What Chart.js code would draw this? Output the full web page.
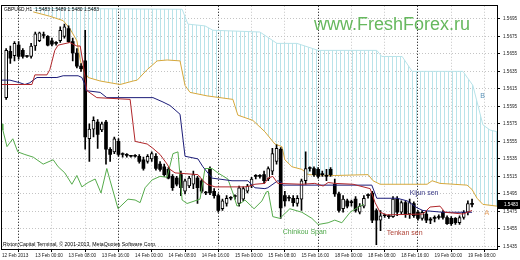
<!DOCTYPE html>
<html>
<head>
<meta charset="utf-8">
<script src="https://cdn.jsdelivr.net/npm/chart.js@4.4.1/dist/chart.umd.min.js"></script>
<style>
  html, body { margin: 0; padding: 0; background: #fff; }
</style>
</head>
<body>
<canvas id="myChart" width="520" height="260"></canvas>
<script>
const symbol = 'GBPUSD,H1';
const timeLabels = ['12 Feb 2013', '13 Feb 00:00', '13 Feb 08:00', '13 Feb 16:00', '14 Feb 00:00', '14 Feb 08:00', '14 Feb 16:00',
  '15 Feb 00:00', '15 Feb 08:00', '15 Feb 16:00', '18 Feb 00:00', '18 Feb 08:00', '18 Feb 16:00', '19 Feb 00:00', '19 Feb 08:00'];
const labelStep = 8; // H1 bars between time labels
const priceLabels = ['1.5435', '1.5455', '1.5475', '1.5495', '1.5515', '1.5535', '1.5555', '1.5575', '1.5595', '1.5615', '1.5635', '1.5655', '1.5675', '1.5695'];
const priceTicks = priceLabels.map(Number);

// candles, first one is bar 1
const firstBar = 1;
const opens = [1.5605, 1.5658, 1.5653, 1.5665, 1.5659, 1.5652, 1.5652, 1.5664, 1.5670, 1.5676, 1.5675, 1.5670, 1.5667, 1.5670, 1.5675, 1.5684, 1.5669, 1.5656, 1.5641, 1.5647,
  1.5558, 1.5569, 1.5577, 1.5568, 1.5577, 1.5546, 1.5543, 1.5555, 1.5540, 1.5539, 1.5538, 1.5538, 1.5538, 1.5534, 1.5532, 1.5535, 1.5538, 1.5529, 1.5526, 1.5523,
  1.5515, 1.5513, 1.5517, 1.5498, 1.5504, 1.5506, 1.5513, 1.5510, 1.5496, 1.5524, 1.5498, 1.5493, 1.5478, 1.5484, 1.5490, 1.5492, 1.5484, 1.5489, 1.5498, 1.5504,
  1.5515, 1.5515, 1.5517, 1.5512, 1.5521, 1.5532, 1.5546, 1.5493, 1.5490, 1.5490, 1.5484, 1.5489, 1.5510, 1.5524, 1.5524, 1.5523, 1.5517, 1.5515, 1.5523, 1.5506,
  1.5495, 1.5478, 1.5487, 1.5485, 1.5489, 1.5474, 1.5481, 1.5493, 1.5496, 1.5476, 1.5465, 1.5470, 1.5469, 1.5469, 1.5489, 1.5474, 1.5485, 1.5472, 1.5484, 1.5474,
  1.5467, 1.5472, 1.5465, 1.5467, 1.5468, 1.5474, 1.5468, 1.5467, 1.5467, 1.5462, 1.5468, 1.5474, 1.5483];
const highs = [1.5661, 1.5664, 1.5669, 1.5669, 1.5661, 1.5653, 1.5667, 1.5680, 1.5680, 1.5680, 1.5676, 1.5673, 1.5669, 1.5686, 1.5689, 1.5687, 1.5673, 1.5661, 1.5644, 1.5682,
  1.5575, 1.5583, 1.5580, 1.5577, 1.5579, 1.5548, 1.5560, 1.5558, 1.5542, 1.5541, 1.5539, 1.5540, 1.5540, 1.5537, 1.5540, 1.5543, 1.5541, 1.5532, 1.5529, 1.5525,
  1.5517, 1.5515, 1.5521, 1.5512, 1.5515, 1.5521, 1.5515, 1.5512, 1.5498, 1.5526, 1.5501, 1.5495, 1.5489, 1.5493, 1.5492, 1.5494, 1.5504, 1.5503, 1.5506, 1.5514,
  1.5517, 1.5517, 1.5521, 1.5526, 1.5547, 1.5551, 1.5548, 1.5498, 1.5493, 1.5493, 1.5493, 1.5512, 1.5543, 1.5526, 1.5526, 1.5525, 1.5521, 1.5523, 1.5525, 1.5512,
  1.5497, 1.5493, 1.5489, 1.5488, 1.5492, 1.5484, 1.5493, 1.5495, 1.5498, 1.5478, 1.5476, 1.5472, 1.5471, 1.5492, 1.5492, 1.5487, 1.5487, 1.5489, 1.5486, 1.5476,
  1.5476, 1.5475, 1.5468, 1.5470, 1.5471, 1.5476, 1.5470, 1.5469, 1.5468, 1.5470, 1.5476, 1.5487, 1.5489];
const lows = [1.5603, 1.5644, 1.5647, 1.5649, 1.5650, 1.5651, 1.5650, 1.5659, 1.5669, 1.5673, 1.5664, 1.5664, 1.5665, 1.5668, 1.5673, 1.5668, 1.5647, 1.5639, 1.5635, 1.5546,
  1.5532, 1.5560, 1.5547, 1.5566, 1.5529, 1.5532, 1.5541, 1.5538, 1.5537, 1.5537, 1.5537, 1.5537, 1.5530, 1.5522, 1.5530, 1.5532, 1.5522, 1.5521, 1.5515, 1.5512,
  1.5499, 1.5504, 1.5493, 1.5495, 1.5502, 1.5501, 1.5484, 1.5496, 1.5494, 1.5494, 1.5490, 1.5474, 1.5476, 1.5481, 1.5488, 1.5489, 1.5481, 1.5487, 1.5496, 1.5502,
  1.5512, 1.5513, 1.5507, 1.5510, 1.5517, 1.5529, 1.5467, 1.5481, 1.5487, 1.5481, 1.5481, 1.5476, 1.5506, 1.5521, 1.5515, 1.5513, 1.5515, 1.5510, 1.5515, 1.5492,
  1.5474, 1.5474, 1.5479, 1.5481, 1.5474, 1.5472, 1.5479, 1.5490, 1.5462, 1.5437, 1.5453, 1.5468, 1.5467, 1.5468, 1.5470, 1.5472, 1.5468, 1.5467, 1.5468, 1.5465,
  1.5465, 1.5462, 1.5461, 1.5463, 1.5466, 1.5466, 1.5460, 1.5459, 1.5460, 1.5460, 1.5466, 1.5471, 1.5480];
const closes = [1.5659, 1.5650, 1.5667, 1.5652, 1.5652, 1.5652, 1.5664, 1.5678, 1.5679, 1.5676, 1.5665, 1.5666, 1.5667, 1.5682, 1.5686, 1.5669, 1.5656, 1.5641, 1.5638, 1.5560,
  1.5569, 1.5579, 1.5563, 1.5575, 1.5546, 1.5540, 1.5558, 1.5540, 1.5540, 1.5539, 1.5538, 1.5538, 1.5532, 1.5524, 1.5538, 1.5541, 1.5524, 1.5523, 1.5517, 1.5513,
  1.5502, 1.5506, 1.5502, 1.5510, 1.5513, 1.5517, 1.5502, 1.5498, 1.5496, 1.5496, 1.5493, 1.5476, 1.5487, 1.5490, 1.5490, 1.5492, 1.5502, 1.5501, 1.5504, 1.5512,
  1.5515, 1.5515, 1.5510, 1.5524, 1.5541, 1.5547, 1.5479, 1.5487, 1.5490, 1.5485, 1.5490, 1.5510, 1.5524, 1.5524, 1.5517, 1.5515, 1.5517, 1.5515, 1.5517, 1.5495,
  1.5476, 1.5489, 1.5481, 1.5485, 1.5476, 1.5481, 1.5490, 1.5493, 1.5465, 1.5465, 1.5470, 1.5470, 1.5469, 1.5489, 1.5474, 1.5485, 1.5472, 1.5485, 1.5470, 1.5467,
  1.5474, 1.5465, 1.5465, 1.5467, 1.5468, 1.5468, 1.5461, 1.5461, 1.5462, 1.5468, 1.5474, 1.5484, 1.5483];

// ichimoku lines, read at their corners (bar, price)
const tenkanX = [0, 7.2, 7.9, 10.8, 11.5, 12.7, 13.5, 16.3, 18, 18.8, 19.5, 20.4, 22.8, 30.8, 32, 34.9, 36.3, 38, 39.7, 40.4, 41.6, 47.1, 48.3, 49.3, 51.2, 58.4, 59.6, 60.8, 63.2, 63.9,
  65.1, 66.3, 72.1, 75.2, 77.2, 78.4, 80, 84.4, 88.5, 89.7, 90.9, 92.5, 101.2, 102.9, 105.3, 106.5, 110.8, 113];
const tenkanY = [1.5620, 1.5620, 1.5631, 1.5631, 1.5637, 1.5659, 1.5665, 1.5668, 1.5664, 1.5664, 1.5644, 1.5613, 1.5605, 1.5603, 1.5555, 1.5552, 1.5547, 1.5540, 1.5529, 1.5523,
  1.5519, 1.5517, 1.5510, 1.5506, 1.5503, 1.5503, 1.5504, 1.5506, 1.5507, 1.5513, 1.5515, 1.5507, 1.5506, 1.5507, 1.5504, 1.5508, 1.5507, 1.5506, 1.5501, 1.5485,
  1.5474, 1.5471, 1.5472, 1.5480, 1.5481, 1.5474, 1.5472, 1.5476];
const kijunX = [0, 1.9, 4.3, 5.5, 6.7, 7.5, 8.4, 13.2, 14.7, 18.3, 19.2, 20, 20.2, 23.6, 25.2, 36.3, 38.7, 40.4, 41.6, 42.8, 44, 47.1, 48.3, 50.5, 55.3, 59.1, 60.8, 63.2, 63.9, 66.3,
  67, 67.5, 88.9, 90.1, 95, 97.4, 99.8, 101.2, 106, 113];
const kijunY = [1.5625, 1.5625, 1.5622, 1.5620, 1.5622, 1.5625, 1.5628, 1.5628, 1.5630, 1.5630, 1.5628, 1.5619, 1.5613, 1.5611, 1.5605, 1.5605, 1.5600, 1.5596, 1.5591, 1.5586,
  1.5538, 1.5535, 1.5526, 1.5513, 1.5510, 1.5510, 1.5502, 1.5501, 1.5502, 1.5510, 1.5509, 1.5505, 1.5505, 1.5490, 1.5490, 1.5487, 1.5479, 1.5476, 1.5474, 1.5474];
const chikouX = [0, 0.2, 1.2, 2.6, 3.8, 5.5, 7.5, 9.9, 12.3, 13.5, 15.1, 16.8, 18, 19.2, 20.7, 22.4, 23.8, 25.2, 26, 27.9, 30.3, 32, 33.2, 34.4, 36.1, 38, 39.7, 41.1, 42.3, 43.3,
  44.5, 47.6, 48.8, 50.5, 51.9, 54.3, 55.5, 56.5, 58.4, 60.6, 62.5, 63.5, 64, 65.1, 66.8, 69.2, 72.1, 74.5, 76, 78.4, 80, 81.7, 83.7, 86, 87];
const chikouY = [1.5575, 1.5568, 1.5549, 1.5558, 1.5543, 1.5540, 1.5537, 1.5529, 1.5534, 1.5526, 1.5519, 1.5506, 1.5516, 1.5503, 1.5508, 1.5512, 1.5496, 1.5524, 1.5510, 1.5478,
  1.5489, 1.5488, 1.5485, 1.5502, 1.5511, 1.5515, 1.5514, 1.5541, 1.5543, 1.5488, 1.5484, 1.5489, 1.5524, 1.5524, 1.5519, 1.5512, 1.5496, 1.5481, 1.5488, 1.5478,
  1.5487, 1.5497, 1.5498, 1.5469, 1.5467, 1.5478, 1.5474, 1.5467, 1.5460, 1.5462, 1.5465, 1.5462, 1.5474, 1.5481, 1.5483];
const spanAX = [7.5, 11.5, 14.7, 16.3, 18, 18.8, 19.5, 20.7, 23.6, 28.4, 31.5, 32.5, 34.9, 37.3, 39.7, 42.8, 44, 45.2, 49.3, 55.5, 56.7, 60.3, 63.2, 65.6, 67.3, 68, 69.7, 72.1, 73.6, 80,
  88, 89.2, 90.9, 102.2, 103.4, 105.3, 111.8, 113, 114.2, 115.6, 119];
const spanAY = [1.5703, 1.5698, 1.5693, 1.5684, 1.5670, 1.5648, 1.5637, 1.5628, 1.5624, 1.5620, 1.5624, 1.5625, 1.5637, 1.5647, 1.5648, 1.5647, 1.5619, 1.5611, 1.5607, 1.5603,
  1.5585, 1.5579, 1.5566, 1.5552, 1.5549, 1.5534, 1.5526, 1.5523, 1.5517, 1.5516, 1.5517, 1.5510, 1.5506, 1.5506, 1.5510, 1.5507, 1.5505, 1.5500, 1.5490, 1.5483, 1.5481];
const spanBX = [7.5, 43.3, 44.7, 48.8, 50.7, 62, 66.1, 70.9, 76, 90.1, 91.3, 96.2, 98.6, 110.8, 113.2, 115.6, 117.3, 119];
const spanBY = [1.5707, 1.5706, 1.5689, 1.5687, 1.5682, 1.5680, 1.5667, 1.5667, 1.5659, 1.5659, 1.5652, 1.5652, 1.5635, 1.5635, 1.5619, 1.5574, 1.5568, 1.5566];

const notes = [
  { text: 'Kijun sen', bar: 98, price: 1.5496, color: '#3c3c88' },
  { text: 'Tenkan sen', bar: 92.5, price: 1.5450, color: '#b04438' },
  { text: 'Chinkou Span', bar: 67.5, price: 1.5451, color: '#4fa84a' },
  { text: 'A', bar: 116, price: 1.5473, color: '#e5a060' },
  { text: 'B', bar: 115, price: 1.5607, color: '#5b93b8' }
];

const FONT = '"Liberation Sans", Arial, sans-serif';
const pts = (xs, ys) => xs.map((x, k) => ({ x: x, y: ys[k] }));
const bars = opens.map((o, k) => firstBar + k);
const bull = k => closes[k] > opens[k];

// vertical hatch for the cloud
const pc = document.createElement('canvas');
pc.width = 4; pc.height = 4;
const pctx = pc.getContext('2d');
pctx.fillStyle = '#b9e3e9';
pctx.fillRect(0, 0, 1, 4);
const hatch = pctx.createPattern(pc, 'repeat');

const overlay = {
  id: 'overlay',
  afterDatasetsDraw(chart) {
    const { ctx, chartArea: a, scales: { x, y } } = chart;
    ctx.save();
    ctx.strokeStyle = '#000';
    ctx.lineWidth = 1;
    ctx.strokeRect(Math.round(a.left) - 0.5, Math.round(a.top) - 0.5, Math.round(a.right - a.left) + 1, Math.round(a.bottom - a.top) + 1);

    ctx.textBaseline = 'middle';
    ctx.textAlign = 'left';
    const last = opens.length - 1;
    ctx.fillStyle = '#000';
    ctx.font = '4.9px ' + FONT;
    ctx.fillText(symbol + '  ' + [opens[last], highs[last], lows[last], closes[last]].map(v => v.toFixed(4)).join(' '), a.left + 2, a.top + 4);
    ctx.font = '5.2px ' + FONT;
    ctx.fillText('Rixton Capital Terminal, \u00a9 2001-2013, MetaQuotes Software Corp.', a.left + 1, a.bottom - 4);

    ctx.fillStyle = '#66b85e';
    ctx.font = '18px ' + FONT;
    ctx.fillText('www.FreshForex.ru', a.left + 312, a.top + 19);

    ctx.font = '7px ' + FONT;
    notes.forEach(n => {
      ctx.fillStyle = n.color;
      ctx.fillText(n.text, x.getPixelForValue(n.bar), y.getPixelForValue(n.price));
    });

    // last price box
    const py = Math.round(y.getPixelForValue(closes[last]));
    ctx.fillStyle = '#000';
    ctx.fillRect(a.right, py - 4, chart.width - a.right, 9);
    ctx.fillStyle = '#fff';
    ctx.font = '4.6px ' + FONT;
    ctx.fillText(closes[last].toFixed(4), a.right + 7, py + 0.5);
    ctx.restore();
  }
};

new Chart(document.getElementById('myChart'), {
  type: 'bar',
  data: {
    datasets: [
      { type: 'line', label: 'Senkou Span A', data: pts(spanAX, spanAY), borderColor: '#d6a83c', borderWidth: 1, pointRadius: 0, fill: false, order: 8 },
      { type: 'line', label: 'Senkou Span B', data: pts(spanBX, spanBY), borderColor: '#b9e3e9', borderWidth: 1, pointRadius: 0, fill: '-1', backgroundColor: hatch, order: 9 },
      { type: 'bar', label: 'wick', data: bars.map((b, k) => ({ x: b, y: [lows[k], highs[k]] })), backgroundColor: '#000', barThickness: 1, grouped: false, order: 7 },
      { type: 'bar', label: 'body', data: bars.map((b, k) => ({ x: b, y: [opens[k], closes[k]] })),
        backgroundColor: c => bull(c.dataIndex) ? '#fff' : '#000', borderColor: '#000',
        borderWidth: c => bull(c.dataIndex) ? 1 : 0, borderSkipped: false, barThickness: 3, minBarLength: 1, grouped: false, order: 6 },
      { type: 'line', label: 'Chinkou Span', data: pts(chikouX, chikouY), borderColor: '#56ab4c', borderWidth: 1, pointRadius: 0, fill: false, order: 5 },
      { type: 'line', label: 'Kijun sen', data: pts(kijunX, kijunY), borderColor: '#1c1c78', borderWidth: 1, pointRadius: 0, fill: false, order: 4 },
      { type: 'line', label: 'Tenkan sen', data: pts(tenkanX, tenkanY), borderColor: '#b0262a', borderWidth: 1, pointRadius: 0, fill: false, order: 3 }
    ]
  },
  options: {
    responsive: false,
    animation: false,
    layout: { padding: { left: 2, top: 2, right: 0, bottom: 0 } },
    plugins: { legend: { display: false }, tooltip: { enabled: false } },
    scales: {
      x: {
        type: 'linear', min: 0, max: 119, offset: false,
        afterBuildTicks: s => { s.ticks = timeLabels.map((t, k) => ({ value: k * labelStep })); },
        afterFit: s => { s.height = 11; },
        ticks: { autoSkip: false, maxRotation: 0, align: 'start', padding: 1, color: '#222', font: { family: FONT, size: 4.7 },
          callback: (v, k) => timeLabels[k] },
        grid: { color: c => (timeLabels[c.index] || '').endsWith('00:00') ? '#000' : '#c4c4c4', tickLength: 3, tickColor: '#000' },
        border: { display: false, dash: [1, 2] }
      },
      y: {
        type: 'linear', position: 'right', min: 1.5432, max: 1.5710,
        afterBuildTicks: s => { s.ticks = priceTicks.map(v => ({ value: v })); },
        afterFit: s => { s.width = 23; },
        ticks: { padding: 3, color: '#222', font: { family: FONT, size: 4.6 }, callback: (v, k) => priceLabels[k] },
        grid: { color: '#c4c4c4', tickLength: 3, tickColor: '#000' },
        border: { display: false, dash: [1, 2] }
      }
    }
  },
  plugins: [overlay]
});
</script>
</body>
</html>
